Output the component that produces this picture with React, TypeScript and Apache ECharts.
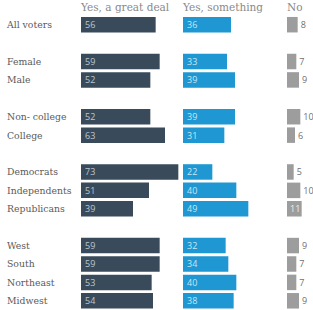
import React, { useEffect, useRef } from "react";
import * as echarts from "echarts";

const categories = [
  "All voters", "", "Female", "Male", "", "Non- college", "College", "",
  "Democrats", "Independents", "Republicans", "", "West", "South", "Northeast", "Midwest",
];
const greatDeal = [56, null, 59, 52, null, 52, 63, null, 73, 51, 39, null, 59, 59, 53, 54];
const something = [36, null, 33, 39, null, 39, 31, null, 22, 40, 49, null, 32, 34, 40, 38];
const noValues = [8, null, 7, 9, null, 10, 6, null, 5, 10, 11, null, 9, 7, 7, 9];
const headers = ["Yes, a great deal", "Yes, something", "No"];

const DARK = "#394b5b";
const BLUE = "#1f97d2";
const GREY = "#9d9d9d";
const SERIF = "'DejaVu Serif', serif";
const SANS = "'Open Sans', sans-serif";

export default function App() {
  const ref = useRef<HTMLDivElement>(null);
  useEffect(() => {
    const chart = echarts.init(ref.current!, null, { renderer: "svg" });
    const top = 15.5;
    const height = 294.5;
    const grids = [
      { left: 81, top, width: 100, height },
      { left: 183, top, width: 100, height },
      { left: 287, top, width: 20, height },
    ];
    const xMax = [75, 75, 15];
    const yAxes = grids.map((_, i) => ({
      type: "category",
      gridIndex: i,
      data: categories,
      inverse: true,
      axisLine: { show: false },
      axisTick: { show: false },
      axisLabel:
        i === 0
          ? { show: true, align: "left", margin: 74, fontFamily: SERIF, fontSize: 9.3, color: "#5a5a5a" }
          : { show: false },
    }));
    const xAxes = grids.map((_, i) => ({
      type: "value",
      gridIndex: i,
      min: 0,
      max: xMax[i],
      show: false,
    }));
    const mk = (vals: (number | null)[], color: string, i: number, labelColor: string) => ({
      type: "bar",
      xAxisIndex: i,
      yAxisIndex: i,
      barWidth: 15.5,
      itemStyle: { color },
      data: vals.map((v) => {
        if (v === null) return "-";
        if (i === 2) {
          const inside = v > 10;
          return {
            value: v,
            label: {
              show: true,
              position: inside ? "insideLeft" : "right",
              distance: 3,
              color: inside ? "#eeeeee" : "#707070",
              fontFamily: SANS,
              fontSize: 9,
            },
          };
        }
        return {
          value: v,
          label: {
            show: true,
            position: "insideLeft",
            distance: 4,
            color: labelColor,
            fontFamily: SANS,
            fontSize: 9,
          },
        };
      }),
    });
    chart.setOption({
      animation: false,
      grid: grids,
      xAxis: xAxes,
      yAxis: yAxes,
      series: [
        mk(greatDeal, DARK, 0, "#bcc6cf"),
        mk(something, BLUE, 1, "#c6e6f6"),
        mk(noValues, GREY, 2, "#707070"),
      ],
      graphic: headers.map((h, i) => ({
        type: "text",
        left: grids[i].left,
        top: 1,
        style: { text: h, fontFamily: SERIF, fontSize: 10.5, fill: "#8a8a8a" },
      })),
    });
    return () => chart.dispose();
  }, []);
  return (
    <div
      ref={ref}
      style={{ position: "absolute", left: 0, top: 0, width: 313, height: 310, background: "#fff" }}
    />
  );
}
